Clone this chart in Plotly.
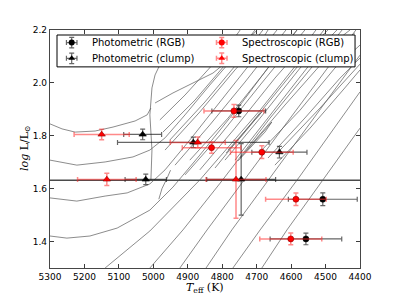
import plotly.graph_objects as go

# ---------------- data ----------------
# Photometric (RGB)  - black circles
phot_rgb_T = [4752, 4508, 4557]
phot_rgb_L = [1.894, 1.560, 1.410]
phot_rgb_eT = [78, 100, 104]
phot_rgb_eL = [0.022, 0.024, 0.022]

# Photometric (clump) - black triangles
phot_clump_T = [5031, 4884, 4634, 4745, 5022]
phot_clump_L = [1.805, 1.775, 1.738, 1.635, 1.635]
phot_clump_eT = [55, 220, 80, 100, 60]
phot_clump_eL = [0.020, 0.020, 0.022, 0.135, 0.020]

# Spectroscopic (RGB) - red circles
spec_rgb_T = [4766, 4831, 4685, 4586, 4601]
spec_rgb_L = [1.894, 1.755, 1.738, 1.560, 1.410]
spec_rgb_eT = [87, 85, 91, 88, 90]
spec_rgb_eL = [0.024, 0.021, 0.024, 0.024, 0.022]

# Spectroscopic (clump) - red triangles
spec_clump_T = [5150, 4871, 4760, 5135]
spec_clump_L = [1.805, 1.775, 1.635, 1.635]
spec_clump_eT = [80, 80, 87, 85]
spec_clump_eL = [0.020, 0.020, 0.147, 0.023]

# axis ranges and reference luminosity line
T_range = [5300, 4400]
L_range = [1.3, 2.2]
ref_logL = 1.632

# evolutionary tracks (gray lines), T_eff and log L
track_T = [
    [5007, 5004, 5010, 5007, 5004, 4995, 4984, 4952, 4894],
    [5300, 5265, 5227, 5169, 5117, 5053, 5018, 5007],
    [5300, 5222, 5140, 5059, 5010, 4966, 4908, 4836, 4748, 4705],
    [5300, 5222, 5140, 5076, 5010, 4966, 4894, 4792, 4676, 4641],
    [5300, 5251, 5184, 5105, 5010, 4943, 4865, 4748, 4618, 4583],
    [5140, 5010, 4865, 4690, 4516, 4505],
    [5010, 4914, 4806, 4661, 4487, 4452],
    [4923, 4844, 4719, 4574, 4429, 4412],
    [4847, 4772, 4632, 4487, 4400],
    [4769, 4690, 4574, 4458, 4400],
    [4685, 4612, 4516, 4400],
    [4981, 4908, 4821, 4777, 4748],
    [4972, 4879, 4792, 4719, 4699],
    [4966, 4865, 4763, 4685, 4667],
    [4937, 4836, 4734, 4632, 4615],
    [4908, 4806, 4690, 4574, 4560],
    [4865, 4763, 4647, 4545, 4528],
    [4821, 4719, 4603, 4502, 4493],
    [4763, 4661, 4545, 4444, 4429],
    [4685, 4574, 4473, 4400],
    [4667, 4560, 4458, 4400],
    [4647, 4545, 4444, 4400],
    [4952, 4850, 4748, 4682],
    [4894, 4783, 4676, 4589, 4583],
    [4792, 4690, 4574, 4473, 4467],
    [4734, 4618, 4502, 4415],
    [4632, 4516, 4400],
    [4783, 4719, 4685, 4705, 4748, 4789],
    [4748, 4685, 4656, 4676, 4719, 4754],
    [4995, 4943, 4827, 4763],
    [4984, 4975, 4960, 4950],
]
track_L = [
    [1.633, 1.746, 1.879, 1.935, 1.981, 2.030, 2.060, 2.087, 2.124],
    [1.845, 1.826, 1.814, 1.818, 1.833, 1.856, 1.879, 1.905],
    [1.708, 1.689, 1.701, 1.720, 1.746, 1.792, 1.879, 1.992, 2.124, 2.200],
    [1.565, 1.553, 1.572, 1.584, 1.618, 1.671, 1.784, 1.954, 2.143, 2.200],
    [1.421, 1.413, 1.421, 1.451, 1.519, 1.606, 1.727, 1.916, 2.143, 2.200],
    [1.300, 1.440, 1.633, 1.897, 2.181, 2.200],
    [1.300, 1.444, 1.621, 1.867, 2.143, 2.200],
    [1.300, 1.444, 1.663, 1.916, 2.170, 2.200],
    [1.300, 1.444, 1.693, 1.950, 2.105],
    [1.300, 1.444, 1.648, 1.860, 1.966],
    [1.300, 1.444, 1.618, 1.829],
    [1.860, 1.954, 2.079, 2.147, 2.200],
    [1.814, 1.935, 2.068, 2.170, 2.200],
    [1.746, 1.890, 2.049, 2.162, 2.200],
    [1.689, 1.841, 2.003, 2.170, 2.200],
    [1.652, 1.803, 1.992, 2.177, 2.200],
    [1.671, 1.829, 2.018, 2.170, 2.200],
    [1.678, 1.841, 2.030, 2.189, 2.200],
    [1.708, 1.879, 2.071, 2.185, 2.200],
    [1.746, 1.897, 2.056, 2.143],
    [1.716, 1.867, 2.018, 2.094],
    [1.689, 1.829, 1.981, 2.049],
    [1.784, 1.928, 2.087, 2.200],
    [1.708, 1.867, 2.041, 2.189, 2.200],
    [1.708, 1.867, 2.056, 2.192, 2.200],
    [1.739, 1.916, 2.087, 2.189],
    [1.746, 1.905, 2.071],
    [1.746, 1.841, 1.890, 1.860, 1.792, 1.735],
    [1.716, 1.810, 1.852, 1.814, 1.754, 1.705],
    [1.924, 1.962, 2.037, 2.105],
    [1.560, 1.600, 1.640, 1.670],
]

x_ticks = [5300, 5200, 5100, 5000, 4900, 4800, 4700, 4600, 4500, 4400]
y_ticks = [1.4, 1.6, 1.8, 2.0, 2.2]

legend_labels = ["Photometric (RGB)", "Photometric (clump)",
                 "Spectroscopic (RGB)", "Spectroscopic (clump)"]

# ---------------- figure ----------------
fig = go.Figure()

TRACK_COLOR = "rgba(95,95,95,0.9)"
for tT, tL in zip(track_T, track_L):
    fig.add_trace(go.Scatter(x=tT, y=tL, mode="lines",
                             line=dict(color=TRACK_COLOR, width=0.8),
                             hoverinfo="skip", showlegend=False))

# horizontal reference line (drawn above tracks, below the points)
fig.add_trace(go.Scatter(x=T_range, y=[ref_logL, ref_logL], mode="lines",
                         line=dict(color="rgb(75,75,75)", width=1.6),
                         hoverinfo="skip", showlegend=False))

BLACK_ERR = dict(color="rgba(20,20,20,0.65)", thickness=1.2, width=2.5)
RED_ERR = dict(color="rgba(255,40,40,0.55)", thickness=1.5, width=2.5)


def add_pts(T, L, eT, eL, symbol, color, err, edge, size):
    fig.add_trace(go.Scatter(
        x=T, y=L, mode="markers",
        marker=dict(symbol=symbol, size=size, color=color,
                    line=dict(color=edge, width=0.6)),
        error_x=dict(type="data", array=eT, visible=True, **err),
        error_y=dict(type="data", array=eL, visible=True, **err),
        showlegend=False))


add_pts(phot_rgb_T, phot_rgb_L, phot_rgb_eT, phot_rgb_eL, "circle", "black", BLACK_ERR, "black", 6)
add_pts(phot_clump_T, phot_clump_L, phot_clump_eT, phot_clump_eL, "triangle-up", "black", BLACK_ERR, "black", 6.5)
add_pts(spec_rgb_T, spec_rgb_L, spec_rgb_eT, spec_rgb_eL, "circle", "red", RED_ERR, "rgb(140,0,0)", 6)
add_pts(spec_clump_T, spec_clump_L, spec_clump_eT, spec_clump_eL, "triangle-up", "red", RED_ERR, "rgb(140,0,0)", 6.5)

# ---------------- manual legend (overlay axes in plot fractions) ----------------
fig.add_trace(go.Scatter(x=[0.0226, 0.984, 0.984, 0.0226, 0.0226],
                         y=[0.845, 0.845, 0.979, 0.979, 0.845],
                         xaxis="x2", yaxis="y2", mode="lines", fill="toself",
                         fillcolor="white", line=dict(color="black", width=1),
                         hoverinfo="skip", showlegend=False))
leg_x = [0.070, 0.070, 0.554, 0.554]
leg_y = [0.947, 0.881, 0.947, 0.881]
leg_sym = ["circle", "triangle-up", "circle", "triangle-up"]
leg_col = ["black", "black", "red", "red"]
leg_err = [BLACK_ERR, BLACK_ERR, RED_ERR, RED_ERR]
for i in range(4):
    fig.add_trace(go.Scatter(
        x=[leg_x[i]], y=[leg_y[i]], xaxis="x2", yaxis="y2", mode="markers",
        marker=dict(symbol=leg_sym[i], size=6, color=leg_col[i]),
        error_x=dict(type="constant", value=0.017, visible=True, **leg_err[i]),
        error_y=dict(type="constant", value=0.022, visible=True, **leg_err[i]),
        hoverinfo="skip", showlegend=False))
    fig.add_annotation(x=leg_x[i] + 0.059, y=leg_y[i], xref="x2", yref="y2",
                       text=legend_labels[i], showarrow=False, xanchor="left",
                       yanchor="middle",
                       font=dict(family="DejaVu Sans", size=10, color="black"))

# axis titles
fig.add_annotation(x=0.5, y=-0.084, xref="paper", yref="paper",
                   text="<i>T</i><sub>eff</sub> (K)", showarrow=False,
                   xanchor="center", yanchor="middle",
                   font=dict(family="DejaVu Serif", size=11, color="black"))
fig.add_annotation(x=-0.0806, y=0.5, xref="paper", yref="paper",
                   text="<i>log</i> L/L<sub>⊙</sub>", showarrow=False, textangle=-90,
                   xanchor="center", yanchor="middle",
                   font=dict(family="DejaVu Serif", size=11, color="black"))

axis_common = dict(showgrid=False, zeroline=False, ticks="inside", ticklen=4,
                   tickwidth=1, tickcolor="rgb(60,60,60)", mirror="allticks",
                   showline=True, linecolor="rgb(70,70,70)", linewidth=1.3,
                   tickfont=dict(family="DejaVu Sans", size=9, color="black"))

# page body has an 8px margin, so the figure is 392x292 and margins are offset
fig.update_layout(
    width=392, height=292,
    margin=dict(l=42, r=40, t=22, b=32),
    paper_bgcolor="white", plot_bgcolor="white",
    showlegend=False,
    xaxis=dict(range=T_range, tickvals=x_ticks,
               ticktext=[str(v) for v in x_ticks], **axis_common),
    yaxis=dict(range=L_range, tickvals=y_ticks,
               ticktext=[f"{v:.1f}" for v in y_ticks], **axis_common),
    xaxis2=dict(overlaying="x", range=[0, 1], visible=False, fixedrange=True),
    yaxis2=dict(overlaying="y", range=[0, 1], visible=False, fixedrange=True),
)

fig.write_html("out.html")
